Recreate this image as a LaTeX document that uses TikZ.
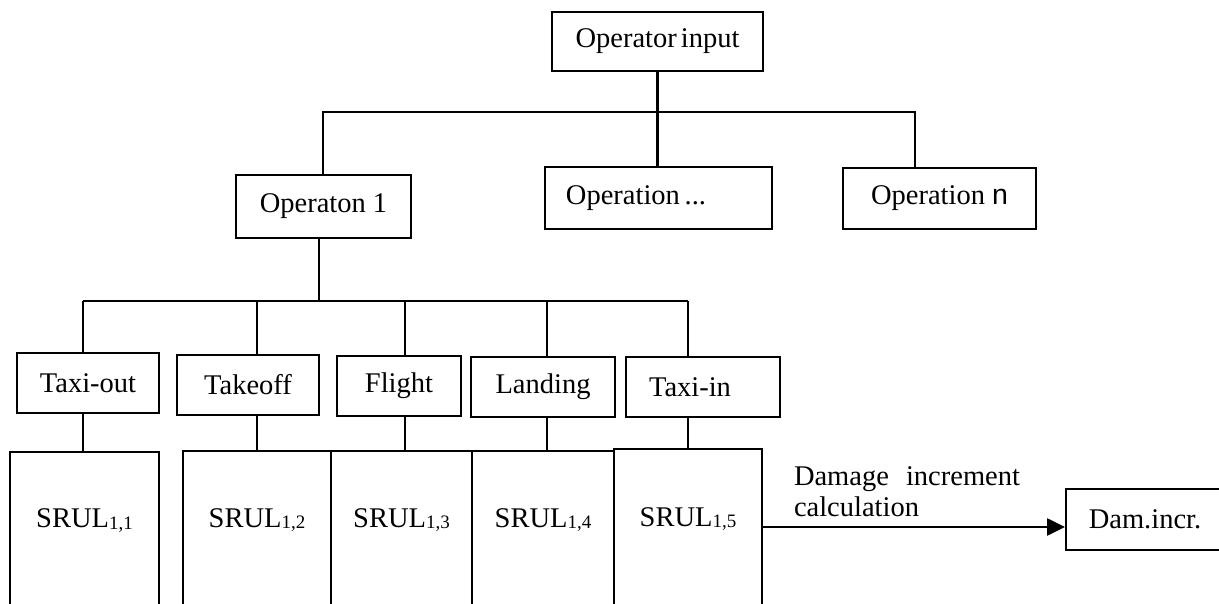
\documentclass[tikz,border=0pt]{standalone}
\usepackage{fontspec}
\setmainfont{Liberation Serif}
\newfontfamily\sansn{Liberation Sans}
\usetikzlibrary{arrows.meta}
\newcommand{\srul}[1]{SRUL\raisebox{-1.5pt}{\fontsize{19}{19}\selectfont #1}}

\begin{document}
\begin{tikzpicture}[x=1pt,y=-1pt,
  txt/.style={font=\fontsize{28.5}{31}\selectfont},
  box/.style={txt, draw=black, line width=2pt, inner sep=0pt, align=center},
  conn/.style={black, line width=2.6pt},
  ]
\useasboundingbox (0,0) rectangle (1219,604);

% operator and operations
\node[box, minimum width=211, minimum height=59] (top) at (657.5,41.5) {Operator\hspace{4pt}input};
\node[box, minimum width=175, minimum height=63] (op1) at (323.5,206.5) {Operaton 1};
\node[box, minimum width=227, minimum height=62] (opd) at (658.5,198) {Operation\,...\hspace*{45pt}};
\node[box, minimum width=193, minimum height=61] (opn) at (939.5,198.5) {Operation {\sansn n}};

% phases of operation 1
\foreach \nm/\cx/\cy/\w/\t in {tout/88/383/142/Taxi-out, toff/248/385/142/Takeoff, flt/399/386/124/Flight, lnd/543/387/144/Landing, tin/703/387/154/{Taxi-in\hspace*{26pt}}}
  \node[box, minimum width=\w, minimum height=60] (\nm) at (\cx,\cy) {\t};

\foreach \i/\cx/\cy/\w/\h in {1/84.5/528.5/149/153, 2/257/528/148/154, 3/401.5/528/141/154, 4/543/528/142/154, 5/688/527/148/156}
  \node[box, minimum width=\w, minimum height=\h] (srul\i) at (\cx,\cy) {\srul{1,\i}\rule[-20pt]{0pt}{20pt}};

\node[box, minimum width=176, minimum height=61] (dam) at (1154,519.5) {Dam.incr.\hspace*{18pt}};

% tree lines
\coordinate (b1) at (323,112);
\coordinate (b3) at (915,112);
\draw[conn] (top.south) -- (top.south |- b1);
\draw[conn] (b1 |- op1.north) -- (b1) -- (b3) -- (b3 |- opn.north);
\draw[conn] (top.south |- b1) -- (top.south |- opd.north);

\foreach \i/\x in {1/83, 2/257, 3/405, 4/547, 5/688} \coordinate (d\i) at (\x,301);
\coordinate (b2) at (319,301);
\draw[conn] (b2 |- op1.south) -- (b2);
\draw[conn] (d1) -- (d5);
\foreach \i/\nm in {1/tout, 2/toff, 3/flt, 4/lnd, 5/tin} {
  \draw[conn] (d\i) -- (d\i |- \nm.north);
  \draw[conn] (d\i |- \nm.south) -- (d\i |- srul\i.north);
}

\draw[conn, -{Triangle[length=18pt, width=17pt]}] (srul5.east) -- (srul5.east -| dam.west)
  node[txt, midway, above=9pt, xshift=-7pt, text width=226pt, align=left, inner sep=0pt] {Damage\hfill increment\\calculation};

\end{tikzpicture}
\end{document}
